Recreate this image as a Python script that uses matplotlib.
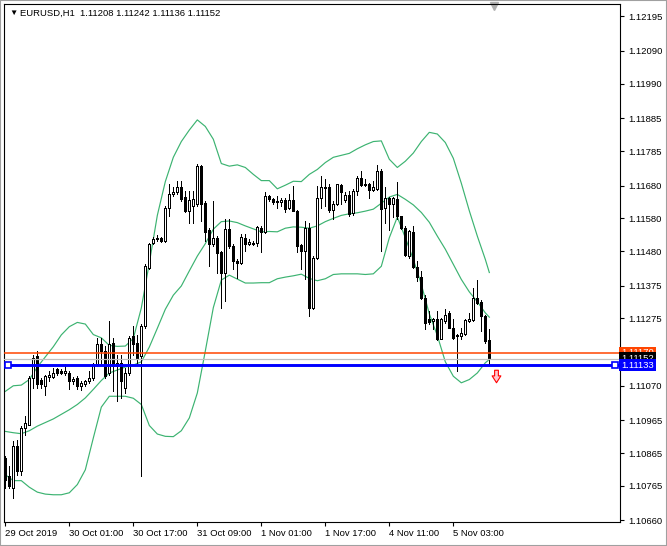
import matplotlib
matplotlib.use('Agg')
import matplotlib.pyplot as plt
from matplotlib.path import Path
from matplotlib.patches import Rectangle
from matplotlib.transforms import blended_transform_factory

plt.rcParams['font.family'] = ['Liberation Sans', 'DejaVu Sans']

# EURUSD H1 candles, from 29 Oct 2019 09:00 on
opens = [1.10850, 1.10794, 1.10758, 1.10886, 1.10809, 1.10942, 1.10952, 1.11094, 1.11160, 1.11089,
         1.11069, 1.11097, 1.11096, 1.11122, 1.11114, 1.11109, 1.11109, 1.11084, 1.11094, 1.11069,
         1.11074, 1.11084, 1.11094, 1.11135, 1.11196, 1.11176, 1.11109, 1.11201, 1.11130, 1.11140,
         1.11064, 1.11109, 1.11221, 1.11201, 1.11160, 1.11252, 1.11430, 1.11506, 1.11516, 1.11521,
         1.11511, 1.11613, 1.11654, 1.11659, 1.11677, 1.11645, 1.11603, 1.11618, 1.11623, 1.11740,
         1.11626, 1.11544, 1.11501, 1.11521, 1.11476, 1.11415, 1.11547, 1.11496, 1.11450, 1.11443,
         1.11521, 1.11503, 1.11503, 1.11506, 1.11552, 1.11537, 1.11647, 1.11638, 1.11631, 1.11631,
         1.11635, 1.11611, 1.11635, 1.11603, 1.11498, 1.11481, 1.11552, 1.11308, 1.11460, 1.11643,
         1.11677, 1.11674, 1.11605, 1.11625, 1.11682, 1.11635, 1.11652, 1.11595, 1.11662, 1.11702,
         1.11681, 1.11684, 1.11667, 1.11669, 1.11725, 1.11613, 1.11641, 1.11625, 1.11638, 1.11586,
         1.11552, 1.11465, 1.11539, 1.11433, 1.11402, 1.11338, 1.11272, 1.11267, 1.11272, 1.11213,
         1.11267, 1.11292, 1.11247, 1.11221, 1.11221, 1.11228, 1.11267, 1.11269, 1.11338, 1.11326,
         1.11282, 1.11208]
highs = [1.10855, 1.10825, 1.10901, 1.10906, 1.10947, 1.10977, 1.11099, 1.11165, 1.11176, 1.11094,
         1.11104, 1.11114, 1.11125, 1.11125, 1.11120, 1.11135, 1.11114, 1.11096, 1.11099, 1.11084,
         1.11089, 1.11116, 1.11140, 1.11216, 1.11216, 1.11191, 1.11267, 1.11216, 1.11165, 1.11165,
         1.11125, 1.11221, 1.11252, 1.11226, 1.11257, 1.11440, 1.11506, 1.11524, 1.11529, 1.11524,
         1.11618, 1.11684, 1.11674, 1.11694, 1.11694, 1.11664, 1.11664, 1.11664, 1.11747, 1.11743,
         1.11633, 1.11552, 1.11633, 1.11526, 1.11481, 1.11577, 1.11577, 1.11501, 1.11455, 1.11532,
         1.11532, 1.11516, 1.11511, 1.11557, 1.11557, 1.11659, 1.11652, 1.11643, 1.11649, 1.11643,
         1.11641, 1.11654, 1.11679, 1.11605, 1.11501, 1.11572, 1.11567, 1.11465, 1.11679, 1.11710,
         1.11700, 1.11684, 1.11633, 1.11686, 1.11686, 1.11659, 1.11664, 1.11669, 1.11710, 1.11725,
         1.11700, 1.11689, 1.11694, 1.11743, 1.11730, 1.11674, 1.11645, 1.11645, 1.11691, 1.11588,
         1.11557, 1.11544, 1.11557, 1.11450, 1.11420, 1.11348, 1.11298, 1.11277, 1.11298, 1.11277,
         1.11303, 1.11298, 1.11272, 1.11228, 1.11247, 1.11272, 1.11293, 1.11369, 1.11391, 1.11330,
         1.11287, 1.11242]
lows = [1.10758, 1.10758, 1.10728, 1.10799, 1.10799, 1.10921, 1.10950, 1.11064, 1.11064, 1.11064,
        1.11043, 1.11084, 1.11094, 1.11104, 1.11106, 1.11104, 1.11059, 1.11074, 1.11059, 1.11056,
        1.11069, 1.11079, 1.11089, 1.11130, 1.11135, 1.11094, 1.11104, 1.11053, 1.11023, 1.11033,
        1.11048, 1.11104, 1.11165, 1.11140, 1.10794, 1.11247, 1.11425, 1.11501, 1.11511, 1.11509,
        1.11509, 1.11588, 1.11649, 1.11654, 1.11633, 1.11598, 1.11567, 1.11567, 1.11618, 1.11572,
        1.11511, 1.11435, 1.11496, 1.11415, 1.11308, 1.11328, 1.11491, 1.11425, 1.11399, 1.11440,
        1.11481, 1.11499, 1.11499, 1.11496, 1.11476, 1.11534, 1.11633, 1.11623, 1.11613, 1.11618,
        1.11598, 1.11608, 1.11601, 1.11476, 1.11425, 1.11394, 1.11282, 1.11303, 1.11455, 1.11613,
        1.11618, 1.11598, 1.11577, 1.11621, 1.11623, 1.11631, 1.11588, 1.11591, 1.11652, 1.11679,
        1.11678, 1.11641, 1.11664, 1.11666, 1.11481, 1.11567, 1.11544, 1.11585, 1.11577, 1.11547,
        1.11465, 1.11460, 1.11430, 1.11389, 1.11333, 1.11242, 1.11257, 1.11242, 1.11208, 1.11211,
        1.11262, 1.11245, 1.11211, 1.11114, 1.11211, 1.11226, 1.11265, 1.11267, 1.11318, 1.11237,
        1.11201, 1.11136]
closes = [1.10784, 1.10764, 1.10886, 1.10809, 1.10942, 1.10957, 1.11094, 1.11155, 1.11074, 1.11074,
          1.11099, 1.11104, 1.11109, 1.11109, 1.11109, 1.11114, 1.11084, 1.11091, 1.11069, 1.11079,
          1.11086, 1.11094, 1.11135, 1.11196, 1.11176, 1.11099, 1.11196, 1.11130, 1.11140, 1.11084,
          1.11109, 1.11216, 1.11196, 1.11155, 1.11252, 1.11435, 1.11501, 1.11516, 1.11521, 1.11511,
          1.11613, 1.11654, 1.11659, 1.11677, 1.11638, 1.11603, 1.11635, 1.11638, 1.11740, 1.11625,
          1.11537, 1.11501, 1.11521, 1.11474, 1.11415, 1.11547, 1.11496, 1.11450, 1.11443, 1.11523,
          1.11501, 1.11509, 1.11506, 1.11555, 1.11537, 1.11647, 1.11638, 1.11631, 1.11633, 1.11635,
          1.11608, 1.11635, 1.11603, 1.11496, 1.11481, 1.11552, 1.11308, 1.11460, 1.11643, 1.11677,
          1.11671, 1.11605, 1.11625, 1.11684, 1.11659, 1.11651, 1.11593, 1.11664, 1.11702, 1.11682,
          1.11684, 1.11667, 1.11674, 1.11725, 1.11608, 1.11643, 1.11623, 1.11641, 1.11588, 1.11552,
          1.11468, 1.11540, 1.11433, 1.11402, 1.11336, 1.11262, 1.11265, 1.11272, 1.11211, 1.11274,
          1.11287, 1.11247, 1.11216, 1.11226, 1.11231, 1.11269, 1.11272, 1.11336, 1.11323, 1.11282,
          1.11206, 1.11152]

# Bollinger bands, read every 2 bars (and the last bar)
band_idx = list(range(0, 121, 2)) + [121]
bb_upper = [1.11053, 1.11070, 1.11072, 1.11089, 1.11127, 1.11158, 1.11189, 1.11225, 1.11250, 1.11263,
            1.11258, 1.11226, 1.11216, 1.11193, 1.11190, 1.11191, 1.11214, 1.11307, 1.11444, 1.11589,
            1.11692, 1.11766, 1.11814, 1.11849, 1.11880, 1.11860, 1.11821, 1.11747, 1.11739, 1.11743,
            1.11735, 1.11714, 1.11695, 1.11695, 1.11670, 1.11681, 1.11693, 1.11692, 1.11714, 1.11729,
            1.11750, 1.11766, 1.11772, 1.11778, 1.11792, 1.11804, 1.11814, 1.11816, 1.11760, 1.11735,
            1.11754, 1.11779, 1.11814, 1.11842, 1.11837, 1.11811, 1.11763, 1.11687, 1.11603, 1.11526,
            1.11455, 1.11415]
bb_middle = [1.10931, 1.10927, 1.10924, 1.10933, 1.10947, 1.10958, 1.10969, 1.10983, 1.10997, 1.11013,
             1.11033, 1.11059, 1.11086, 1.11109, 1.11118, 1.11127, 1.11133, 1.11143, 1.11188, 1.11245,
             1.11303, 1.11346, 1.11374, 1.11420, 1.11465, 1.11503, 1.11547, 1.11570, 1.11572, 1.11567,
             1.11557, 1.11548, 1.11539, 1.11540, 1.11539, 1.11550, 1.11554, 1.11553, 1.11550, 1.11557,
             1.11570, 1.11580, 1.11589, 1.11594, 1.11597, 1.11602, 1.11608, 1.11626, 1.11645, 1.11653,
             1.11638, 1.11621, 1.11598, 1.11568, 1.11526, 1.11486, 1.11440, 1.11394, 1.11356, 1.11326,
             1.11292, 1.11279]
bb_lower = [1.10799, 1.10781, 1.10781, 1.10761, 1.10746, 1.10740, 1.10738, 1.10738, 1.10744, 1.10769,
            1.10814, 1.10911, 1.11005, 1.11038, 1.11038, 1.11038, 1.11032, 1.11013, 1.10949, 1.10923,
            1.10916, 1.10915, 1.10933, 1.10972, 1.11048, 1.11176, 1.11308, 1.11392, 1.11407, 1.11395,
            1.11383, 1.11383, 1.11384, 1.11384, 1.11396, 1.11401, 1.11405, 1.11410, 1.11397, 1.11390,
            1.11396, 1.11409, 1.11411, 1.11411, 1.11411, 1.11409, 1.11411, 1.11434, 1.11521, 1.11584,
            1.11521, 1.11455, 1.11379, 1.11289, 1.11223, 1.11143, 1.11099, 1.11079, 1.11089, 1.11109,
            1.11140, 1.11150]

date_idx = [0, 16, 32, 48, 64, 80, 96, 112]
date_labels = ['29 Oct 2019', '30 Oct 01:00', '30 Oct 17:00', '31 Oct 09:00',
               '1 Nov 01:00', '1 Nov 17:00', '4 Nov 11:00', '5 Nov 03:00']
price_ticks = [1.12195, 1.12090, 1.11990, 1.11885, 1.11785, 1.11680, 1.11580, 1.11480,
               1.11375, 1.11275, 1.11070, 1.10965, 1.10865, 1.10765, 1.10660]

level_orange = 1.11170
level_bid = 1.11152
level_blue = 1.11133
arrow_idx, arrow_price = 122.6, 1.11099

W, H = 667, 546
fig = plt.figure(figsize=(W / 100, H / 100), dpi=100)
ax = fig.add_axes([4 / W, (H - 522) / H, (620 - 4) / W, (522 - 4) / H])
ax.set_xlim(-0.33, 153.67)
ax.set_ylim(1.10655, 1.12233)

idx = list(range(len(opens)))
px = 0.72  # one pixel in points

# candles
ax.vlines(idx, lows, highs, color='black', linewidth=px, antialiased=False, zorder=3)
heights = [c - o for o, c in zip(opens, closes)]
fills = ['white' if c >= o else 'black' for o, c in zip(opens, closes)]
ax.bar(idx, heights, bottom=opens, width=0.5, color=fills, edgecolor='black',
       linewidth=px, antialiased=False, zorder=4)

# bollinger bands
for band in (bb_upper, bb_middle, bb_lower):
    ax.plot(band_idx, band, color='#3CB371', linewidth=0.85, zorder=2)

# horizontal levels
ax.axhline(level_orange, color='#FF4500', linewidth=1.1, zorder=5)
ax.axhline(level_bid, color='#C0C0C0', linewidth=0.9, zorder=5)
ax.axhline(level_blue, color='#0000FF', linewidth=2.1, zorder=6)
tr = blended_transform_factory(ax.transAxes, ax.transData)
ax.plot([0.006, 0.992], [level_blue, level_blue], 's', ms=4, mfc='white', mec='#0000FF',
        mew=1.2, transform=tr, zorder=7, clip_on=False)

# sell arrow
arrow = Path([(-0.3, 1), (0.3, 1), (0.3, 0.1), (0.7, 0.1), (0, -1), (-0.7, 0.1), (-0.3, 0.1), (-0.3, 1)],
             [Path.MOVETO] + [Path.LINETO] * 6 + [Path.CLOSEPOLY])
ax.plot([arrow_idx], [arrow_price], marker=arrow, ms=9, mfc='#FFC8D0', mec='red', mew=0.8, zorder=7)

# chart shift marker
trx = blended_transform_factory(ax.transData, ax.transAxes)
ax.plot([122.2], [0.996], marker='v', ms=6, color='#B0B0B0', transform=trx, clip_on=False)

# axes styling
for s in ax.spines.values():
    s.set_linewidth(0.8)
    s.set_color('black')
ax.yaxis.tick_right()
ax.set_yticks(price_ticks)
ax.set_yticklabels(['%.5f' % v for v in price_ticks])
ax.set_xticks(date_idx)
ax.set_xticklabels(date_labels)
for lbl in ax.get_xticklabels():
    lbl.set_ha('left')
ax.tick_params(axis='y', length=3, width=0.8, pad=3, labelsize=6.8)
ax.tick_params(axis='x', length=3, width=0.8, pad=2, labelsize=6.8)

# price labels on the right scale
for lvl, col in ((level_orange, '#FF4500'), (level_bid, 'black'), (level_blue, '#0000FF')):
    ax.text(1.002, lvl, '%.5f' % lvl, transform=tr, ha='left', va='center', color='white',
            fontsize=6.8, clip_on=False, zorder=10,
            bbox=dict(boxstyle='square,pad=0.2', facecolor=col, edgecolor='none'))

# header
fig.text(9 / W, 1 - 13 / H, '\u25bc', fontsize=6, va='center', ha='left')
fig.text(20 / W, 1 - 13 / H, 'EURUSD,H1  1.11208 1.11242 1.11136 1.11152', fontsize=6.8,
         va='center', ha='left')

fig.patches.append(Rectangle((0, 0), 1, 1, transform=fig.transFigure, fill=False,
                             edgecolor='#A0A0A0', linewidth=1.5))

fig.savefig('out.png', dpi=100)
